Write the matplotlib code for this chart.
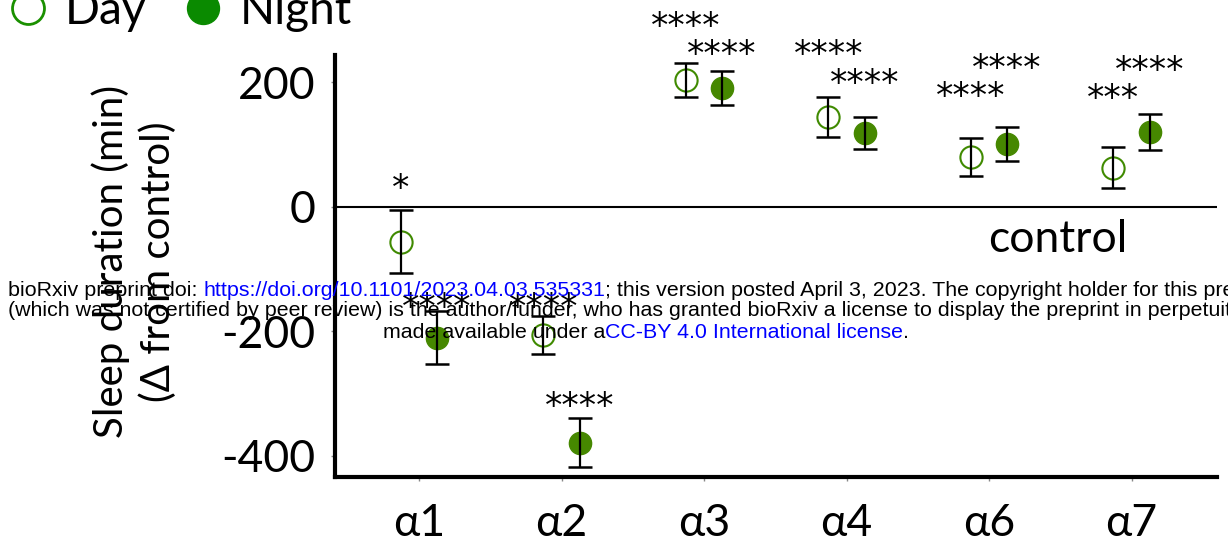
import matplotlib
matplotlib.use("Agg")
import matplotlib.pyplot as plt
from matplotlib.lines import Line2D

# Receptor subunits and sleep change (min, delta from control)
subunits = ["α1", "α2", "α3", "α4", "α6", "α7"]
day_mean = [-56, -206, 204, 145, 80, 63]
day_err = [51, 31, 27, 32, 31, 33]
night_mean = [-210, -379, 191, 119, 101, 120]
night_err = [42, 39, 27, 26, 27, 29]

# significance labels and the height they sit at
day_stars = ["*", "****", "****", "****", "****", "***"]
day_star_y = [40, -151, 300, 255, 188, 185]
night_stars = ["****", "****", "****", "****", "****", "****"]
night_star_y = [-151, -310, 255, 209, 233, 230]

MAIN_FONT = ["Lato", "DejaVu Sans"]
plt.rcParams["font.family"] = MAIN_FONT
day_col = "#3f8a00"
night_col = "#468800"

fig = plt.figure(figsize=(12.28, 5.49), dpi=100)
ax = fig.add_axes([335 / 1228, 72 / 549, 882 / 1228, 422 / 549])

xs = list(range(1, len(subunits) + 1))
off = 0.127
x_day = [x - off for x in xs]
x_night = [x + off for x in xs]

ax.axhline(0, color="black", lw=1.5, zorder=1)

ax.plot(x_day, day_mean, "o", ms=16, mfc="white", mec=day_col, mew=1.5, ls="none", zorder=2)
ax.plot(x_night, night_mean, "o", ms=16, mfc=night_col, mec=night_col, ls="none", zorder=2)
ax.errorbar(x_day, day_mean, yerr=day_err, fmt="none", ecolor="black", elinewidth=1.6,
            capsize=8.5, capthick=1.8, zorder=3)
ax.errorbar(x_night, night_mean, yerr=night_err, fmt="none", ecolor="black", elinewidth=1.6,
            capsize=8.5, capthick=1.8, zorder=3)

for x, s, y in zip(x_day, day_stars, day_star_y):
    ax.annotate(s, (x, y), xytext=(0, -5), textcoords="offset points", ha="center",
                va="center", fontsize=25, family="DejaVu Sans", annotation_clip=False)
for x, s, y in zip(x_night, night_stars, night_star_y):
    ax.annotate(s, (x, y), xytext=(0, -5), textcoords="offset points", ha="center",
                va="center", fontsize=25, family="DejaVu Sans", annotation_clip=False)

ax.text(5.48, -52, "control", ha="center", va="center", fontsize=32)

ax.set_xlim(0.4105, 6.6)
ax.set_ylim(-434, 244)
ax.set_yticks([200, 0, -200, -400])
ax.set_yticklabels(["200", "0", "-200", "-400"])
ax.set_xticks(xs)
ax.set_xticklabels(subunits)
ax.tick_params(axis="both", labelsize=32, length=3, width=1, color="#888888")
ax.tick_params(axis="y", pad=11)
ax.tick_params(axis="x", pad=16)
for side in ["top", "right"]:
    ax.spines[side].set_visible(False)
for side in ["left", "bottom"]:
    ax.spines[side].set_linewidth(3)

fig.text(134 / 1228, 1 - 262 / 549, "Sleep duration (min)\n(Δ from control)", rotation=90,
         ha="center", va="center", multialignment="center", fontsize=29, linespacing=1.3)

handles = [
    Line2D([], [], marker="o", ls="none", ms=23, mfc="white", mec="#1a9000", mew=2),
    Line2D([], [], marker="o", ls="none", ms=23, mfc="#0a8a00", mec="#0a8a00"),
]
fig.legend(handles, ["Day", "Night"], loc="center left", bbox_to_anchor=(-0.011, 0.98),
           ncol=2, frameon=False, fontsize=33, handletextpad=0.3, columnspacing=0.75,
           handlelength=1.0, borderaxespad=0)

# bioRxiv watermark, drawn piece by piece so colours can change mid-line
wm_font = ["Liberation Sans", "DejaVu Sans"]
wm_lines = [
    (8, 290, [("bioRxiv preprint doi: ", "black"),
              ("https://doi.org/10.1101/2023.04.03.535331", "blue"),
              ("; this version posted April 3, 2023. The copyright holder for this preprint", "black")]),
    (8, 311, [("(which was not certified by peer review) is the author/funder, who has granted bioRxiv a license to display the preprint in perpetuity. It is", "black")]),
    (383, 332, [("made available under a", "black"),
                ("CC-BY 4.0 International license", "blue"),
                (".", "black")]),
]
renderer = fig.canvas.get_renderer()
for x0, y0, pieces in wm_lines:
    x = x0
    for s, c in pieces:
        t = fig.text(x / 1228, 1 - y0 / 549, s, color=c, fontsize=15.4, family=wm_font,
                     ha="left", va="center", zorder=10)
        bb = t.get_window_extent(renderer=renderer)
        x += bb.width

fig.savefig("out.png", dpi=100)
